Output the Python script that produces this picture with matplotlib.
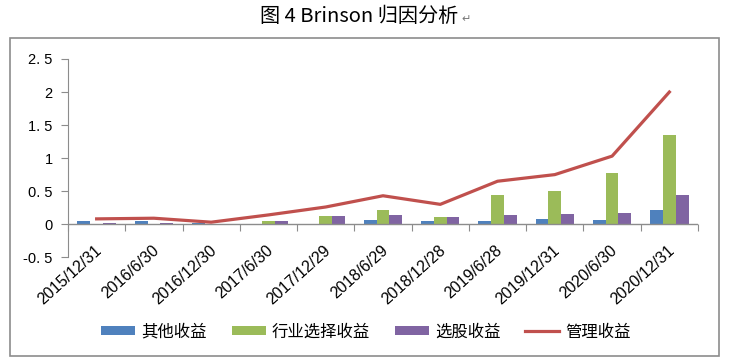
import matplotlib
matplotlib.use("Agg")
import matplotlib.pyplot as plt
from matplotlib.patches import Rectangle
import numpy as np

plt.rcParams['font.family'] = ['Liberation Sans', 'Noto Sans CJK SC', 'DejaVu Sans']

# 数据
fechas = ["2015/12/31", "2016/6/30", "2016/12/30", "2017/6/30", "2017/12/29", "2018/6/29",
          "2018/12/28", "2019/6/28", "2019/12/31", "2020/6/30", "2020/12/31"]
otros = [0.05, 0.05, 0.02, 0.0, 0.0, 0.07, 0.05, 0.05, 0.08, 0.07, 0.21]
industria = [-0.02, 0.0, -0.02, 0.05, 0.13, 0.21, 0.11, 0.44, 0.50, 0.78, 1.35]
seleccion = [0.02, 0.02, 0.0, 0.05, 0.13, 0.14, 0.11, 0.14, 0.15, 0.17, 0.44]
gestion = [0.08, 0.09, 0.03, 0.14, 0.26, 0.43, 0.30, 0.65, 0.75, 1.03, 2.0]

nombres = ["其他收益", "行业选择收益", "选股收益", "管理收益"]
colores = ["#4F81BD", "#9BBB59", "#8064A2", "#C0504D"]

fig = plt.figure(figsize=(7.32, 3.64), dpi=100)

# marco exterior
fig.patches.append(Rectangle((10 / 732, 1 - 356 / 364), 709 / 732, 318 / 364,
                             transform=fig.transFigure, fill=False,
                             edgecolor="#8c8c8c", linewidth=1.2))

ax = fig.add_axes([68 / 732, 1 - 257.2 / 364, 630 / 732, 198.2 / 364])

x = np.arange(len(fechas))
w = 0.223
b1 = ax.bar(x - w, otros, w, color=colores[0])
b2 = ax.bar(x, industria, w, color=colores[1])
b3 = ax.bar(x + w, seleccion, w, color=colores[2])
l1, = ax.plot(x, gestion, color=colores[3], linewidth=2.3)

ax.set_xlim(-0.5, len(fechas) - 0.5)
ax.set_ylim(-0.5, 2.5)
ax.set_yticks([-0.5, 0, 0.5, 1, 1.5, 2, 2.5])
ax.set_yticklabels(["-0. 5", "0", "0. 5", "1", "1. 5", "2", "2. 5"])
ax.tick_params(axis="y", direction="out", length=5, pad=6, color="#8c8c8c",
               labelsize=10.5)

for s in ["top", "right", "bottom"]:
    ax.spines[s].set_visible(False)
ax.spines["left"].set_color("#8c8c8c")

# eje x en y=0
ax.axhline(0, color="#8c8c8c", linewidth=1, zorder=1)
sec = ax.secondary_xaxis(1 / 6)
sec.set_xticks(np.arange(len(fechas) + 1) - 0.5)
sec.set_xticklabels([])
sec.tick_params(direction="out", length=5, color="#8c8c8c")
sec.spines["bottom"].set_visible(False)

# etiquetas de fecha (debajo del eje)
ax.set_xticks([])
trans = ax.get_xaxis_transform()
for i, f in enumerate(fechas):
    ax.text(i + 0.05, 0.046, f, transform=trans, rotation=42, ha="right", va="center",
            rotation_mode="anchor", fontsize=11.5, clip_on=False)

fig.text(0.49, 1 - 16 / 364, "图 4 Brinson 归因分析", ha="center", va="center",
         fontsize=14.5, family=["Noto Sans CJK SC", "DejaVu Sans"])
fig.text(461 / 732, 1 - 19 / 364, "↵", ha="left", va="center", fontsize=8,
         color="#777777", family=["DejaVu Sans"])

leg = fig.legend([b1, b2, b3, l1], nombres, loc="center",
                 bbox_to_anchor=(366 / 732, 1 - 332 / 364), ncol=4,
                 frameon=False, prop={"family": "Noto Sans CJK SC", "size": 11.8},
                 handlelength=2.07, handleheight=0.43, columnspacing=1.52,
                 handletextpad=0.37)

fig.savefig("out.png", dpi=100)
